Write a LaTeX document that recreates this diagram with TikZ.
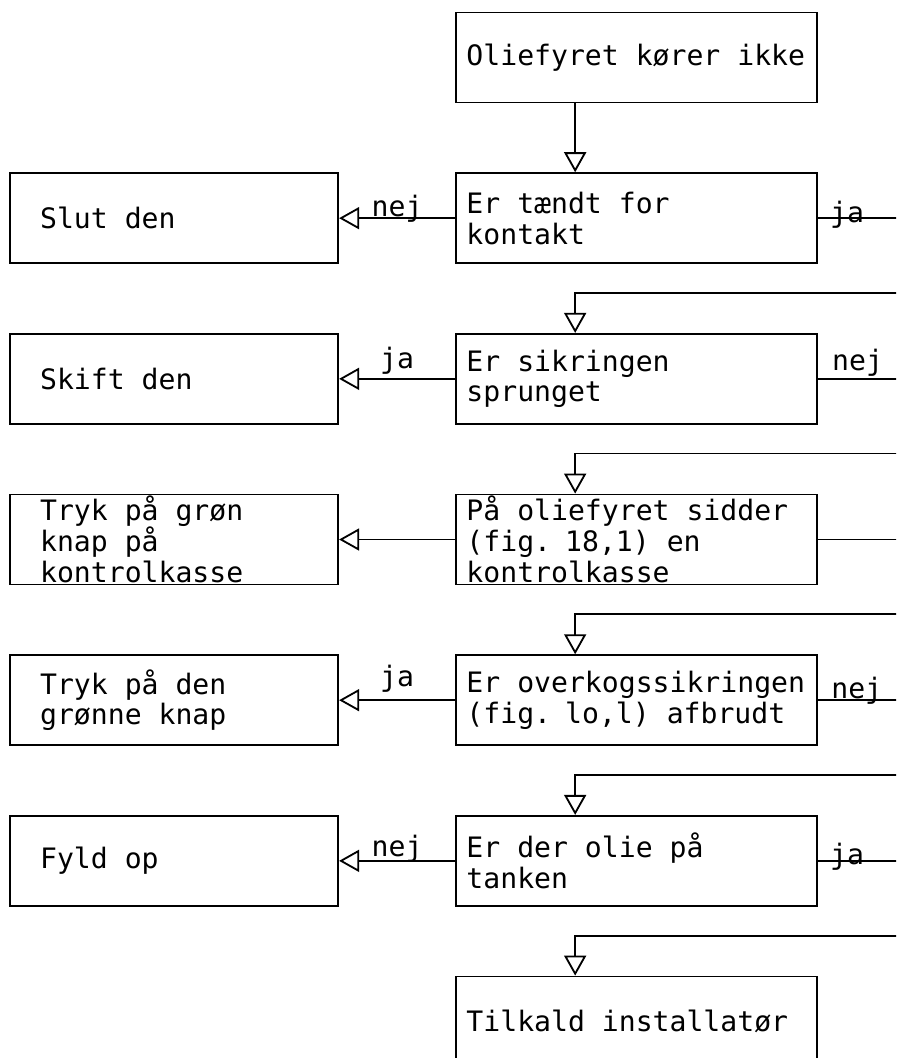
\documentclass[tikz,border=0pt]{standalone}
\usepackage{fontspec}
\setmonofont{DejaVu Sans Mono}
\usetikzlibrary{positioning,arrows.meta}
\newcommand{\typed}{\ttfamily\fontsize{20}{22}\selectfont}
\tikzstyle{question} = [rectangle, draw, line width=1.3pt, text width=8.5cm, inner xsep=0.26cm, inner ysep=0pt, minimum height=2.25cm, align=left, font=\typed, execute at begin node={\spaceskip=0.602em\relax}]
\tikzstyle{action} = [question, text width=6.7cm, inner xsep=0.75cm]
\tikzstyle{answer} = [inner sep=0pt, anchor=base, font=\typed]
\tikzstyle{line} = [draw, line width=1.3pt, -{Triangle[open, length=0.5cm, width=0.55cm]}]

\begin{document}
\begin{tikzpicture}[x=0.025cm, y=-0.025cm, node distance=1.72cm]
    \useasboundingbox (0,0) rectangle (896,1058);
    \clip (0,0) rectangle (896,1058);
    % Place nodes
    \node [question] (b1) at (636.5,57.5) {Oliefyret kører ikke};
    \node [question, below=of b1] (b2) {Er tændt for\\kontakt};
    \node [question, below=of b2] (b3) {Er sikringen\\sprunget};
    \node [question, below=of b3] (b4) {På oliefyret sidder\\(fig. 18,1) en\\kontrolkasse};
    \node [question, below=of b4] (b5) {Er overkogssikringen\\(fig. lo,l) afbrudt};
    \node [question, below=of b5] (b6) {Er der olie på\\tanken};
    \node [question, below=of b6] (b7) {Tilkald installatør};
    \node [action, left=2.9cm of b2] (s2) {Slut den};
    \node [action, left=2.9cm of b3] (s3) {Skift den};
    \node [action, left=2.9cm of b4] (s4) {Tryk på grøn\\knap på\\kontrolkasse};
    \node [action, left=2.9cm of b5] (s5) {Tryk på den\\grønne knap};
    \node [action, left=2.9cm of b6] (s6) {Fyld op};
    \coordinate (rail) at (905,0);
    % Draw edges
    \path [line] ([xshift=3cm]b1.south west) -- ([xshift=3cm]b2.north west);
    \foreach \a/\b in {b2/b3,b3/b4,b4/b5,b5/b6,b6/b7} {
        \coordinate (in\b) at ([xshift=3cm,yshift=1cm]\b.north west);
        \path [line] (\a.east) -| (rail |- in\b) -- (in\b) -- ([xshift=3cm]\b.north west);
    }
    \path [line] (b2.west) -- node [answer, yshift=0.05cm] (nej2) {nej} (s2.east);
    \path [line] (b3.west) -- node [answer, yshift=0.25cm] (ja3) {ja} (s3.east);
    \path [line] (b4.west) -- (s4.east);
    \path [line] (b5.west) -- node [answer, yshift=0.35cm] (ja5) {ja} (s5.east);
    \path [line] (b6.west) -- node [answer, yshift=0.12cm] (nej6) {nej} (s6.east);
    % Answers on the right
    \node [answer, anchor=base west] (ja2) at ([xshift=0.3cm,yshift=-0.1cm]b2.east) {ja};
    \node [answer, anchor=base west] (nej3) at ([xshift=0.35cm,yshift=0.22cm]b3.east) {nej};
    \node [answer, anchor=base west] (nej5) at ([xshift=0.33cm,yshift=0.05cm]b5.east) {nej};
    \node [answer, anchor=base west] (ja6) at ([xshift=0.3cm,yshift=-0.1cm]b6.east) {ja};
\end{tikzpicture}
\end{document}
